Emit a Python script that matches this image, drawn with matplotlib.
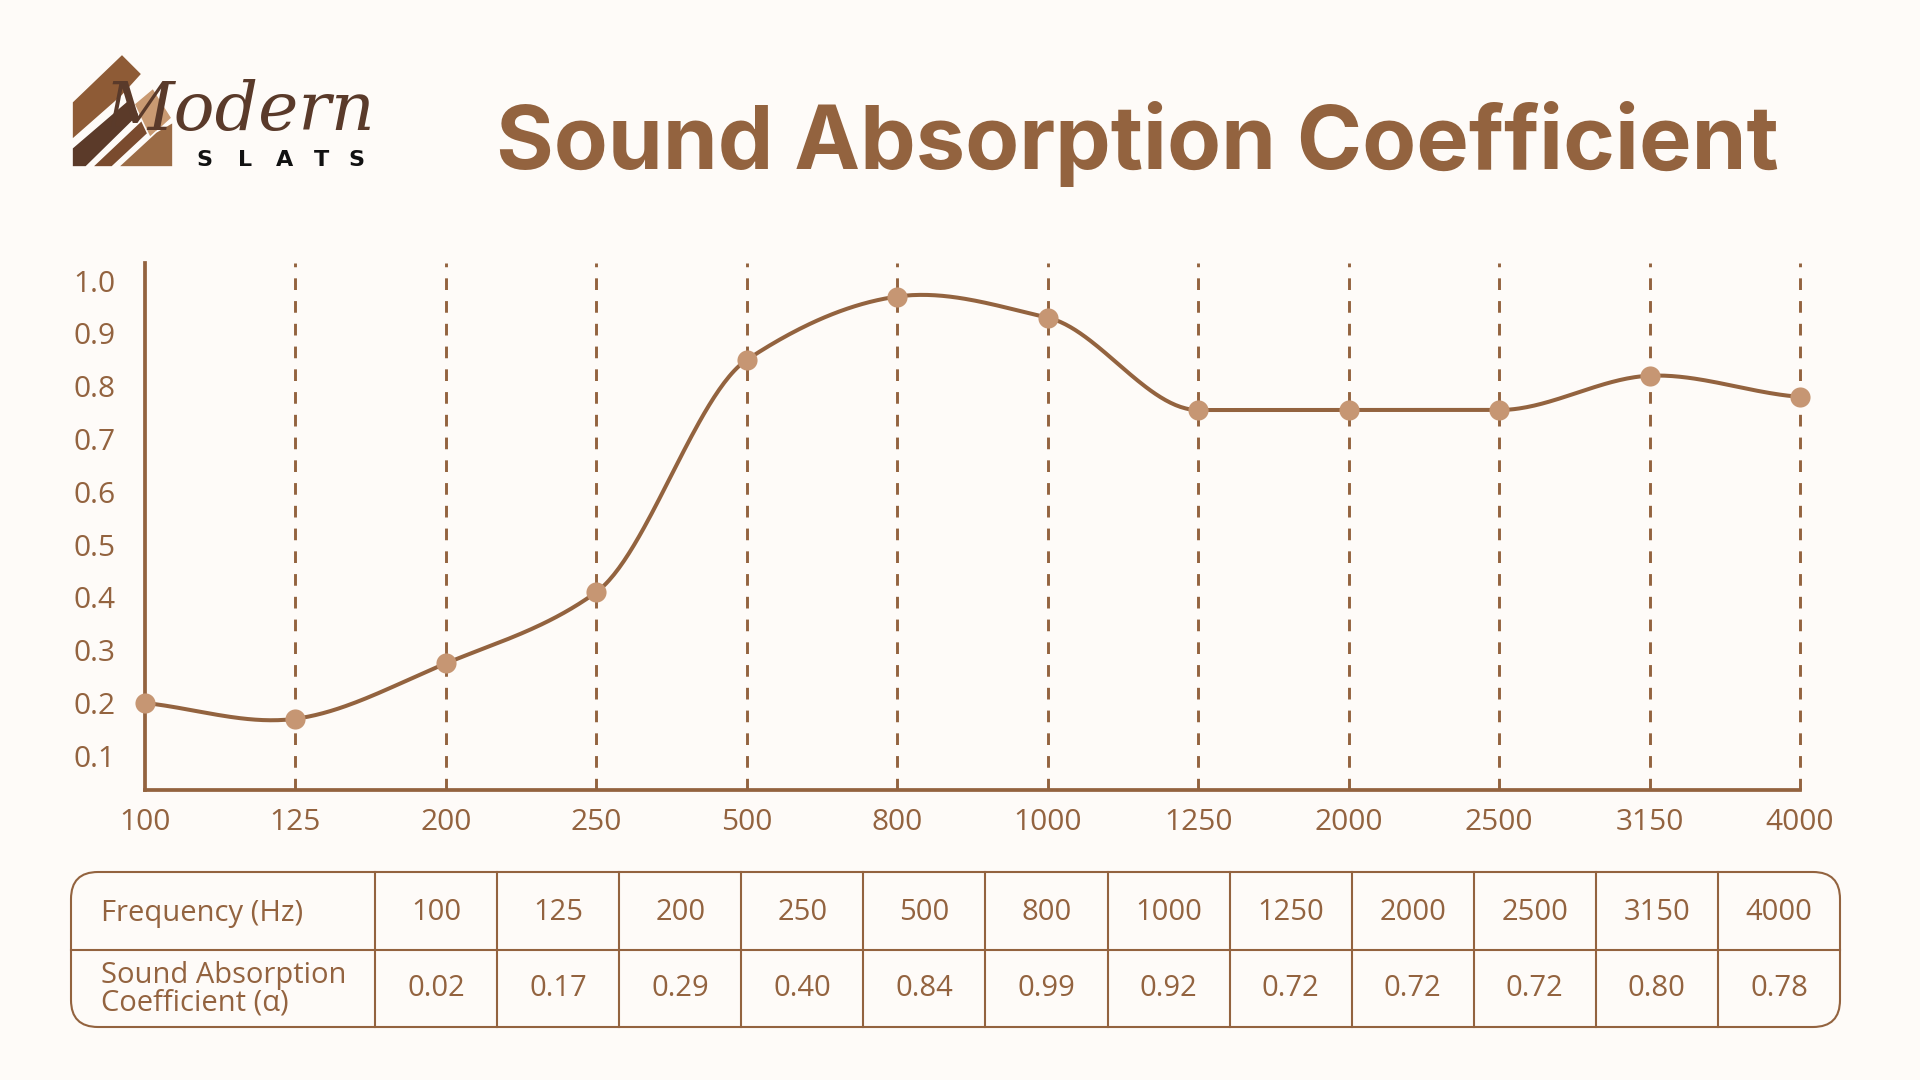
import numpy as np
import matplotlib
matplotlib.use("Agg")
import matplotlib.pyplot as plt
from matplotlib.patches import FancyBboxPatch, Polygon

# ── Data ────────────────────────────────────────────────────────────────────
FREQS = ["100", "125", "200", "250", "500", "800", "1000", "1250", "2000", "2500", "3150", "4000"]
# values as plotted on the curve
ALPHA_PLOT = [0.20, 0.17, 0.275, 0.41, 0.85, 0.97, 0.93, 0.755, 0.755, 0.755, 0.82, 0.78]
# values as printed in the table
ALPHA_TABLE = ["0.02", "0.17", "0.29", "0.40", "0.84", "0.99", "0.92", "0.72", "0.72", "0.72", "0.80", "0.78"]
Y_TICKS = [0.1, 0.2, 0.3, 0.4, 0.5, 0.6, 0.7, 0.8, 0.9, 1.0]

BG = "#FEFBF8"
BROWN = "#93633F"
TAN = "#C69673"
FONT = ["Open Sans", "DejaVu Sans"]


def smooth(ys, n=60):
    """Hermite curve through equally spaced points.
    Catmull-Rom tangents, but harmonic mean of the secants where both have
    the same sign (keeps flat runs flat and avoids S-wiggles)."""
    ys = np.asarray(ys, float)
    d = np.diff(ys)
    m = np.zeros_like(ys)
    for i in range(1, len(ys) - 1):
        a, b = d[i - 1], d[i]
        if a * b > 0:
            m[i] = 2 * a * b / (a + b)
        elif a == 0 or b == 0:
            m[i] = 0.0
        else:
            m[i] = (a + b) / 2
    m[0] = d[0]
    m[-1] = d[-1] / 2
    xs_out, ys_out = [], []
    for i in range(len(ys) - 1):
        t = np.linspace(0, 1, n, endpoint=False)
        h00 = 2 * t**3 - 3 * t**2 + 1
        h10 = t**3 - 2 * t**2 + t
        h01 = -2 * t**3 + 3 * t**2
        h11 = t**3 - t**2
        xs_out.append(i + t)
        ys_out.append(h00 * ys[i] + h10 * m[i] + h01 * ys[i + 1] + h11 * m[i + 1])
    xs_out.append([len(ys) - 1])
    ys_out.append([ys[-1]])
    return np.concatenate(xs_out), np.concatenate(ys_out)


fig = plt.figure(figsize=(19.2, 10.8), dpi=100, facecolor=BG)

# overlay in pixel coordinates for title, logo and table
ov = fig.add_axes([0, 0, 1, 1])
ov.set_xlim(0, 1920); ov.set_ylim(1080, 0)
ov.axis("off")
ov.patch.set_alpha(0)

# ── Title ───────────────────────────────────────────────────────────────────
ov.text(496, 169, "Sound Absorption Coefficient", ha="left", va="baseline",
        fontsize=63.5, fontweight="bold", color=BROWN, family=["Inter", "DejaVu Sans"])

# ── Logo (simplified) ───────────────────────────────────────────────────────
house = [
    ([(72, 102), (122, 54), (142, 74), (122, 96), (72, 140)], "#8E5B36"),
    ([(72, 148), (128, 100), (142, 112), (86, 167), (72, 167)], "#5B3A29"),
    ([(92, 167), (146, 116), (156, 126), (112, 167)], "#7A4B2E"),
    ([(134, 104), (153, 88), (172, 118), (150, 138)], "#C99A72"),
    ([(118, 167), (156, 132), (173, 122), (173, 167)], "#9B6B45"),
]
for pts, col in house:
    ov.add_patch(Polygon(pts, closed=True, facecolor=col, edgecolor=BG, lw=1.2))
ov.text(104, 130, "Modern", ha="left", va="baseline", fontsize=49, style="italic",
        color="#5A3A2A", family=["DejaVu Serif"])
for lx, ch in zip([204, 245, 285, 321, 356], "SLATS"):
    ov.text(lx, 166, ch, ha="center", va="baseline", fontsize=16, fontweight="bold",
            color="#111111", family=["DejaVu Sans"])

# ── Chart ───────────────────────────────────────────────────────────────────
ax = fig.add_axes([0.0755, 0.2685, 0.862, 0.4877])
ax.set_facecolor("none")
x = np.arange(len(FREQS))
ax.set_xlim(0, len(FREQS) - 1)
ax.set_ylim(0.035, 1.033)

ax.vlines(x[1:], 0.035, 1.033, colors=BROWN, linestyles=(0, (4, 3.8)), lw=2.1,
          zorder=1, clip_on=False)

sx, sy = smooth(ALPHA_PLOT)
ax.plot(sx, sy, color=BROWN, lw=2.9, zorder=3, clip_on=False, solid_capstyle="round")
ax.plot(x, ALPHA_PLOT, "o", color=TAN, ms=14.5, mec="none", zorder=4, clip_on=False)

for s in ["top", "right"]:
    ax.spines[s].set_visible(False)
for s in ["left", "bottom"]:
    ax.spines[s].set_color(BROWN)
    ax.spines[s].set_linewidth(2.7)
    ax.spines[s].set_zorder(2)

ax.set_xticks(x)
ax.set_xticklabels(FREQS)
ax.set_yticks(Y_TICKS)
ax.set_yticklabels([f"{v:.1f}" for v in Y_TICKS])
ax.tick_params(axis="both", length=0, labelsize=21.5, labelcolor=BROWN)
ax.tick_params(axis="y", pad=21)
ax.tick_params(axis="x", pad=13)
for lab in ax.get_xticklabels() + ax.get_yticklabels():
    lab.set_family(FONT)

# ── Table ───────────────────────────────────────────────────────────────────
tx0, tx1, ty0, ty1 = 71, 1840, 872, 1027
ymid = 950
first_w = 375
ov.add_patch(FancyBboxPatch((tx0, ty0), tx1 - tx0, ty1 - ty0,
                            boxstyle="round,pad=0,rounding_size=27",
                            facecolor="none", edgecolor=BROWN, lw=1.5))
ov.plot([tx0, tx1], [ymid, ymid], color=BROWN, lw=1.5)
col_w = (tx1 - first_w) / len(FREQS)
edges = [first_w + k * col_w for k in range(len(FREQS))]
for e in edges:
    ov.plot([e, e], [ty0, ty1], color=BROWN, lw=1.5)

ov.text(101, 913, "Frequency (Hz)", ha="left", va="center", fontsize=21,
        color=BROWN, family=FONT)
ov.text(101, 989, "Sound Absorption\nCoefficient (\u03b1)", ha="left", va="center",
        fontsize=21, color=BROWN, family=FONT, linespacing=0.92)
for k, (f, a) in enumerate(zip(FREQS, ALPHA_TABLE)):
    cx = first_w + (k + 0.5) * col_w
    ov.text(cx, 913, f, ha="center", va="center", fontsize=21, color=BROWN, family=FONT)
    ov.text(cx, 989, a, ha="center", va="center", fontsize=21, color=BROWN, family=FONT)

fig.savefig("out.png", dpi=100, facecolor=BG)
